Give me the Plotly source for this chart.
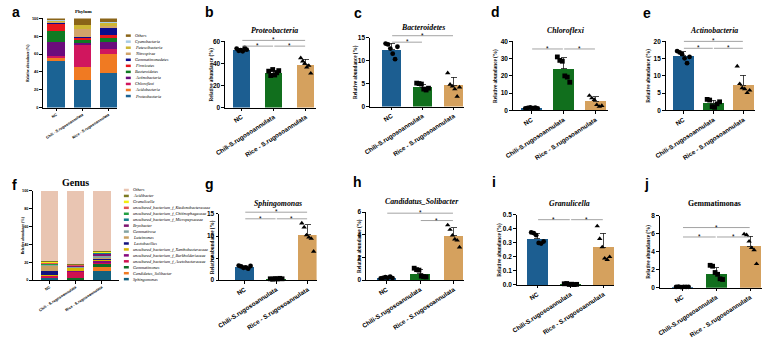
import plotly.graph_objects as go

W, H = 775, 339
SANS = "Liberation Sans, Arial, sans-serif"
SERIF = "Liberation Serif, Times New Roman, serif"

# ---------------- data ----------------
groups = ["NC", "Chili-S.rugosoannulata", "Rice - S.rugosoannulata"]
groups_stack = ["NC", "Chili - S.rugosoannulata", "Rice - S.rugosoannulata"]
group_colors = ["#1c5e91", "#116f1d", "#d5a15e"]
group_symbols = ["circle", "square", "triangle-up"]

# Phylum (bottom -> top)
phylum_names = ["Proteobacteria", "Acidobacteria", "Chloroflexi", "Actinobacteria",
                "Bacteroidetes", "Firmicutes", "Gemmatimonadetes", "Nitrospirae",
                "Patescibacteria", "Cyanobacteria", "Others"]
phylum_nc = [52.0, 4.0, 1.5, 15.8, 12.4, 8.0, 1.5, 1.0, 1.0, 0.5, 2.3]
phylum_chili = [31.0, 15.0, 24.0, 2.0, 4.2, 2.0, 1.2, 9.0, 4.0, 0.5, 7.1]
phylum_rice = [39.0, 21.5, 5.5, 7.3, 4.6, 4.0, 7.5, 2.0, 4.0, 1.0, 3.6]
phylum_colors = ["#1b6394", "#f07a22", "#d0165e", "#6b0c7c", "#0f7a22", "#e8161c",
                 "#0c0c8c", "#d2a46a", "#cdb634", "#a8cce4", "#8a6418"]

# Genus (bottom -> top)
genus_names = ["Sphingomonas", "Candidatus_Solibacter", "Gemmatimonas",
               "uncultured_bacterium_f_Acetobacteraceae",
               "uncultured_bacterium_f_Burkholderiaceae",
               "uncultured_bacterium_f_Xanthobacteraceae",
               "Lactobacillus", "Luteimonas", "Gemmatirosa", "Bryobacter",
               "uncultured_bacterium_f_Micropepsaceae",
               "uncultured_bacterium_f_Chitinophagaceae",
               "uncultured_bacterium_f_Ktedonobacteraceae",
               "Granulicella", "Acidibacter", "Others"]
genus_nc = [2.9, 0.2, 0.1, 1.5, 0.5, 1.0, 4.0, 6.0, 1.0, 0.3, 0.5, 1.2, 1.0, 0.33, 0.5, 78.97]
genus_chili = [0.3, 0.6, 1.5, 7.5, 0.5, 3.5, 0.5, 0.3, 0.2, 1.5, 0.2, 0.2, 0.8, 0.005, 0.2, 82.7]
genus_rice = [10.3, 3.9, 4.6, 1.2, 2.0, 1.5, 0.3, 2.0, 2.2, 2.0, 0.8, 0.3, 0.3, 0.27, 0.5, 67.83]
genus_colors = ["#12617f", "#f07a22", "#0f6e25", "#d0124f", "#86087e", "#d6b400",
                "#12127e", "#c9a062", "#84a4a2", "#7e1470", "#137b8a", "#22a042",
                "#e25252", "#f2ee10", "#7c7a22", "#e9c5b2"]

# Single-taxon panels: bar means, SD, individual replicate values
proteo_mean = [52.0, 31.0, 39.0]
proteo_sd = [1.3, 2.5, 5.0]
proteo_nc = [53.5, 51.5, 52.0, 51.0, 54.0, 52.5]
proteo_chili = [33.0, 29.0, 34.5, 29.5, 31.5, 33.5]
proteo_rice = [45.0, 42.0, 40.0, 36.5, 38.0, 31.0]

bactero_mean = [12.4, 4.2, 4.6]
bactero_sd = [1.4, 0.6, 1.8]
bactero_nc = [13.7, 13.5, 12.6, 11.5, 10.3, 13.0]
bactero_chili = [5.1, 5.0, 4.9, 3.8, 3.6, 4.0]
bactero_rice = [7.3, 4.8, 4.4, 3.8, 2.2, 4.2]

chloro_mean = [1.4, 24.0, 5.4]
chloro_sd = [0.3, 6.5, 2.5]
chloro_nc = [1.2, 1.5, 1.7, 1.3, 1.6, 1.1]
chloro_chili = [31.0, 29.0, 28.5, 20.0, 19.3, 16.3]
chloro_rice = [8.6, 7.1, 6.2, 3.2, 2.2, 2.7]

actino_mean = [15.8, 2.1, 7.3]
actino_sd = [1.2, 0.9, 2.9]
actino_nc = [17.2, 16.8, 16.3, 15.1, 13.7, 15.5]
actino_chili = [3.2, 3.0, 1.1, 0.9, 1.9, 2.5]
actino_rice = [12.8, 7.7, 6.5, 6.2, 5.1, 5.8]

sphingo_mean = [2.9, 0.3, 10.3]
sphingo_sd = [0.25, 0.08, 2.3]
sphingo_nc = [3.3, 3.1, 2.8, 2.9, 2.6, 3.2]
sphingo_chili = [0.3, 0.2, 0.35, 0.25, 0.4, 0.3]
sphingo_rice = [12.9, 12.0, 10.2, 9.7, 9.4, 6.5]

solib_mean = [0.2, 0.56, 3.9]
solib_sd = [0.05, 0.35, 0.7]
solib_nc = [0.15, 0.2, 0.25, 0.2, 0.3, 0.18]
solib_chili = [1.05, 0.92, 0.88, 0.35, 0.3, 0.28]
solib_rice = [4.85, 4.45, 3.95, 3.6, 3.5, 2.9]

granu_mean = [0.33, 0.005, 0.27]
granu_sd = [0.035, 0.003, 0.1]
granu_nc = [0.375, 0.37, 0.355, 0.3, 0.295, 0.31]
granu_chili = [0.008, 0.01, 0.003, 0.005, 0.002, 0.004]
granu_rice = [0.42, 0.33, 0.27, 0.19, 0.18, 0.2]

gemma_mean = [0.1, 1.53, 4.63]
gemma_sd = [0.03, 0.7, 1.1]
gemma_nc = [0.1, 0.12, 0.08, 0.1, 0.09, 0.11]
gemma_chili = [2.5, 2.4, 1.7, 1.5, 1.0, 0.92]
gemma_rice = [5.98, 5.87, 5.16, 4.45, 4.2, 2.67]

# significance brackets (group i, group j, height in data units)
sig_b = [(0, 2, 60.9), (0, 1, 55.7), (1, 2, 55.7)]
sig_c = [(0, 2, 15.4), (0, 1, 14.0)]
sig_d = [(0, 1, 35.6), (1, 2, 35.6)]
sig_e = [(0, 2, 20.0), (0, 1, 18.0), (1, 2, 18.0)]
sig_g = [(0, 2, 15.4), (0, 1, 13.9), (1, 2, 13.9)]
sig_h = [(0, 2, 5.9), (1, 2, 5.25)]
sig_i = [(0, 1, 0.466), (1, 2, 0.466)]
sig_j = [(0, 2, 6.7), (0, 1, 5.65), (1, 2, 5.65)]

# ---------------- layout geometry (pixels) ----------------
P = {
    "a": dict(k=1, x0=32, x1=108, c0=46, c2=99, yt=15, yb=108, ymax=100, dtick=20, bw=18),
    "b": dict(k=2, x0=217, x1=309, c0=234, c2=299, yt=39, yb=108, ymax=60, dtick=20, bw=17),
    "c": dict(k=3, x0=364, x1=460, c0=386, c2=449, yt=35, yb=107, ymax=15, dtick=5, bw=20),
    "d": dict(k=4, x0=509, x1=606, c0=528, c2=593, yt=39, yb=111, ymax=40, dtick=10, bw=21),
    "e": dict(k=5, x0=664, x1=755, c0=682, c2=743, yt=39, yb=111, ymax=20, dtick=5, bw=21),
    "f": dict(k=6, x0=22, x1=110, c0=39, c2=92, yt=195, yb=288, ymax=100, dtick=20, bw=18),
    "g": dict(k=7, x0=211, x1=310, c0=237, c2=301, yt=219, yb=288, ymax=15, dtick=5, bw=20),
    "h": dict(k=8, x0=360, x1=460, c0=381, c2=449, yt=217, yb=288, ymax=6, dtick=2, bw=20),
    "i": dict(k=9, x0=513, x1=612, c0=534, c2=601, yt=220, yb=293, ymax=0.5, dtick=0.1, bw=21),
    "j": dict(k=10, x0=658, x1=762, c0=681, c2=750, yt=221, yb=296, ymax=8, dtick=2, bw=21),
}
letter_pos = {"a": (5, 8), "b": (201, 8), "c": (352, 9), "d": (491, 8), "e": (645, 9),
              "f": (4, 189), "g": (201, 188), "h": (351, 186), "i": (490, 186), "j": (645, 188)}

fig = go.Figure()
layout_axes = {}
annotations = []
shapes = []


def sfx(k):
    return "" if k == 1 else str(k)


def geom(sp):
    unit = (sp["c2"] - sp["c0"]) / 2.0
    r0 = -(sp["c0"] - sp["x0"]) / unit
    r1 = (sp["x1"] - sp["c0"]) / unit
    return unit, r0, r1


def to_paper(sp, xd, yd):
    unit, r0, r1 = geom(sp)
    px = sp["x0"] + (xd - r0) * unit
    py = sp["yb"] - yd / sp["ymax"] * (sp["yb"] - sp["yt"])
    return px / W, 1 - py / H


def make_axes(sp, ticktext, tick_fs, xlab_fs, fmt=None):
    s = sfx(sp["k"])
    unit, r0, r1 = geom(sp)
    common = dict(showline=True, linecolor="black", linewidth=1, ticks="outside",
                  ticklen=2.5, tickwidth=1, tickcolor="black", showgrid=False,
                  zeroline=False, fixedrange=True)
    layout_axes["xaxis" + s] = dict(domain=[sp["x0"] / W, sp["x1"] / W], range=[r0, r1],
                                    anchor="y" + s, tickmode="array", tickvals=[0, 1, 2],
                                    ticktext=ticktext, tickangle=-33,
                                    tickfont=dict(family=SANS, size=xlab_fs, color="black", weight="bold"),
                                    **common)
    ya = dict(domain=[1 - sp["yb"] / H, 1 - sp["yt"] / H], range=[0, sp["ymax"]],
              anchor="x" + s, tickmode="linear", tick0=0, dtick=sp["dtick"],
              tickfont=dict(family=SANS, size=tick_fs, color="black", weight="bold"), **common)
    if fmt:
        ya["tickformat"] = fmt
    layout_axes["yaxis" + s] = ya
    return "x" + s, "y" + s


def text(px, py, t, size, family=SERIF, angle=0, xanchor="center", color="black"):
    annotations.append(dict(x=px / W, y=1 - py / H, xref="paper", yref="paper", text=t,
                            showarrow=False, textangle=angle, xanchor=xanchor, yanchor="middle",
                            font=dict(family=family, size=size, color=color)))


# ---------------- stacked panels ----------------
def stacked(sp, names, cols, vals_nc, vals_chili, vals_rice, ytitle_x, fs, leg_x, leg_y0, leg_step):
    xr, yr = make_axes(sp, groups_stack, fs, fs)
    unit, _, _ = geom(sp)
    for n, c, a, b, r in zip(names, cols, vals_nc, vals_chili, vals_rice):
        fig.add_trace(go.Bar(x=[0, 1, 2], y=[a, b, r], name=n, marker=dict(color=c, line=dict(width=0)),
                             width=sp["bw"] / unit, xaxis=xr, yaxis=yr, showlegend=False))
    text(ytitle_x, (sp["yt"] + sp["yb"]) / 2, "<b>Relative abundance (%)</b>", fs * 0.95, angle=-90)
    # manual legend (top -> bottom = reversed stack order)
    for idx, (n, c) in enumerate(zip(names[::-1], cols[::-1])):
        yy = leg_y0 + idx * leg_step
        shapes.append(dict(type="rect", xref="paper", yref="paper",
                           x0=leg_x / W, x1=(leg_x + 5) / W,
                           y0=1 - (yy + 1.3) / H, y1=1 - (yy - 1.3) / H,
                           fillcolor=c, line=dict(width=0)))
        text(leg_x + 7, yy, "<i>" + n + "</i>", 4.2, xanchor="left")


stacked(P["a"], phylum_names, phylum_colors, phylum_nc, phylum_chili, phylum_rice,
        17, 3.8, 116.5, 33, 6.3)
text(74, 8, "<b>Phylum</b>", 5)
stacked(P["f"], genus_names, genus_colors, genus_nc, genus_chili, genus_rice,
        12, 3.8, 114.5, 194, 6.2)
text(65, 186, "<b>Genus</b>", 10)


# ---------------- bar + dot panels ----------------
jitter = [-0.3, -0.18, -0.06, 0.06, 0.18, 0.3]


def barpanel(sp, title, means, sds, pts, sigs, title_pos, ytitle_x, fmt=None, italic=True):
    xr, yr = make_axes(sp, groups, 6.5, 6.3, fmt)
    unit, _, _ = geom(sp)
    bwd = sp["bw"] / unit
    fig.add_trace(go.Bar(x=[0, 1, 2], y=means, width=bwd,
                         marker=dict(color=group_colors, line=dict(width=0)),
                         error_y=dict(type="data", array=sds, arrayminus=[0, 0, 0], symmetric=False,
                                      color="#1a1a1a", thickness=0.8, width=3),
                         xaxis=xr, yaxis=yr, showlegend=False))
    for gi, vals in enumerate(pts):
        fig.add_trace(go.Scatter(x=[gi + j * bwd for j in jitter[:len(vals)]], y=vals, mode="markers",
                                 marker=dict(symbol=group_symbols[gi], size=4.8, color="black",
                                             line=dict(width=0)),
                                 cliponaxis=False, xaxis=xr, yaxis=yr, showlegend=False))
    for (i, j, h) in sigs:
        xa, ya = to_paper(sp, i + 0.02, h)
        xb, _ = to_paper(sp, j - 0.02, h)
        shapes.append(dict(type="line", xref="paper", yref="paper", x0=xa, x1=xb, y0=ya, y1=ya,
                           line=dict(color="#8c8c8c", width=0.8)))
        xm, _ = to_paper(sp, (i + j) / 2.0, h)
        annotations.append(dict(x=xm, y=ya + 0.5 / H, xref="paper", yref="paper", text="*",
                                showarrow=False, xanchor="center", yanchor="middle",
                                font=dict(family=SANS, size=6.5, color="black")))
    t = "<b><i>" + title + "</i></b>" if italic else "<b>" + title + "</b>"
    text(title_pos[0], title_pos[1], t, 7.8)
    text(ytitle_x, (sp["yt"] + sp["yb"]) / 2, "<b>Relative abundance (%)</b>", 5.2, angle=-90)


barpanel(P["b"], "Proteobacteria", proteo_mean, proteo_sd, [proteo_nc, proteo_chili, proteo_rice],
         sig_b, (267, 28), 203)
barpanel(P["c"], "Bacteroidetes", bactero_mean, bactero_sd, [bactero_nc, bactero_chili, bactero_rice],
         sig_c, (418, 24), 349)
barpanel(P["d"], "Chloroflexi", chloro_mean, chloro_sd, [chloro_nc, chloro_chili, chloro_rice],
         sig_d, (563, 28), 492)
barpanel(P["e"], "Actinobacteria", actino_mean, actino_sd, [actino_nc, actino_chili, actino_rice],
         sig_e, (713, 28), 647)
barpanel(P["g"], "Sphingomonas", sphingo_mean, sphingo_sd, [sphingo_nc, sphingo_chili, sphingo_rice],
         sig_g, (271, 208), 204)
barpanel(P["h"], "Candidatus_Solibacter", solib_mean, solib_sd, [solib_nc, solib_chili, solib_rice],
         sig_h, (417, 206), 353)
barpanel(P["i"], "Granulicella", granu_mean, granu_sd, [granu_nc, granu_chili, granu_rice],
         sig_i, (567, 208), 496, fmt=".1f")
barpanel(P["j"], "Gemmatimonas", gemma_mean, gemma_sd, [gemma_nc, gemma_chili, gemma_rice],
         sig_j, (714, 208), 647, italic=False)

for letter, (lx, ly) in letter_pos.items():
    text(lx, ly, "<b>" + letter + "</b>", 14, family=SANS)

fig.update_layout(width=W, height=H, autosize=False, margin=dict(l=0, r=0, t=0, b=0),
                  paper_bgcolor="white", plot_bgcolor="white", barmode="stack",
                  showlegend=False, annotations=annotations, shapes=shapes, **layout_axes)

fig.write_html("out.html", config={"displayModeBar": False},
               post_script="document.body.style.margin='0';document.body.style.padding='0';")
